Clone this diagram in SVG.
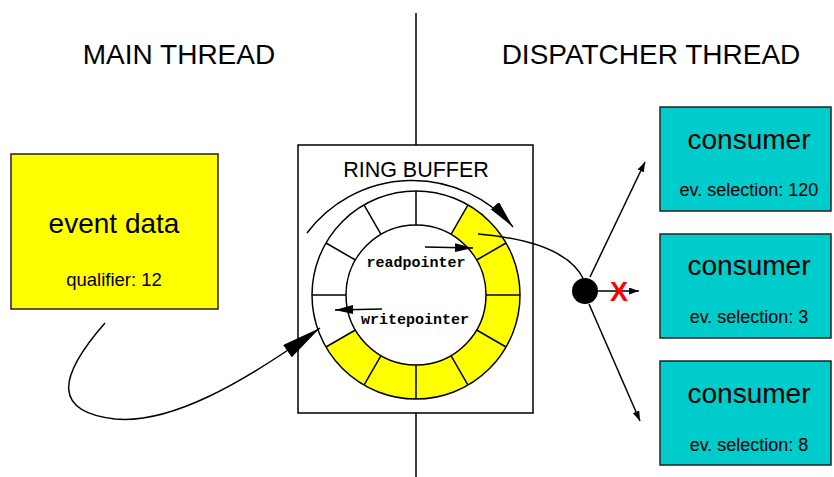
<svg xmlns="http://www.w3.org/2000/svg" width="834" height="477" viewBox="0 0 834 477">
  <defs>
    <style>
      .sans { font-family: "Liberation Sans", Arial, sans-serif; fill: #000; }
      .mono { font-family: "Liberation Mono", "Courier New", monospace; font-weight: bold; fill: #000; }
      .line { fill: none; stroke: #000; stroke-width: 1.5; }
      .seg { stroke: #000; stroke-width: 1.5; }
      .box { stroke: #222; stroke-width: 1.5; }
    </style>
    <marker id="head-big" markerUnits="userSpaceOnUse" markerWidth="42" markerHeight="16" refX="40" refY="7.5" orient="auto">
      <path d="M0,0 L40,7.5 L0,15 Z" fill="#000"/>
    </marker>
    <marker id="head-arc" markerUnits="userSpaceOnUse" markerWidth="30" markerHeight="12" refX="28" refY="5.5" orient="auto">
      <path d="M0,0 L28,5.5 L0,11 Z" fill="#000"/>
    </marker>
    <marker id="head-mid" markerUnits="userSpaceOnUse" markerWidth="20" markerHeight="10" refX="18" refY="4.5" orient="auto">
      <path d="M0,0 L18,4.5 L0,9 Z" fill="#000"/>
    </marker>
    <marker id="head-small" markerUnits="userSpaceOnUse" markerWidth="12" markerHeight="8" refX="10" refY="3.5" orient="auto">
      <path d="M0,0 L10,3.5 L0,7 Z" fill="#000"/>
    </marker>
  </defs>

  <rect width="834" height="477" fill="#fff"/>

  <!-- thread divider -->
  <g id="divider">
    <line class="line" x1="416" y1="13" x2="416" y2="145"/>
    <line class="line" x1="416" y1="413" x2="416" y2="477"/>
  </g>

  <!-- headings -->
  <g id="headings">
    <text class="sans" x="179" y="64" font-size="28" text-anchor="middle">MAIN THREAD</text>
    <text class="sans" x="651" y="64" font-size="28" text-anchor="middle">DISPATCHER THREAD</text>
  </g>

  <!-- event data -->
  <g id="event-data">
    <rect class="box" x="11" y="154" width="207" height="155" fill="#ffff00"/>
    <text class="sans" x="114" y="233" font-size="28" text-anchor="middle">event data</text>
    <text class="sans" x="114" y="286" font-size="18.5" text-anchor="middle">qualifier: 12</text>
  </g>

  <!-- ring buffer -->
  <g id="ring-buffer">
    <rect x="298" y="145" width="235" height="268" fill="#fff" stroke="#000" stroke-width="1.5"/>
    <text class="sans" x="416" y="177" font-size="21.5" text-anchor="middle">RING BUFFER</text>
    <circle cx="416" cy="295" r="104" fill="#fff"/>
    <path d="M468,204.93 A104,104 0 1 1 325.93,347 L355.38,330 A70,70 0 1 0 451,234.38 Z" fill="#ffff00"/>
    <g class="seg">
      <line x1="486" y1="295" x2="520" y2="295"/>
      <line x1="476.62" y1="260" x2="506.07" y2="243"/>
      <line x1="451" y1="234.38" x2="468" y2="204.93"/>
      <line x1="416" y1="225" x2="416" y2="191"/>
      <line x1="381" y1="234.38" x2="364" y2="204.93"/>
      <line x1="355.38" y1="260" x2="325.93" y2="243"/>
      <line x1="346" y1="295" x2="312" y2="295"/>
      <line x1="355.38" y1="330" x2="325.93" y2="347"/>
      <line x1="381" y1="355.62" x2="364" y2="385.07"/>
      <line x1="416" y1="365" x2="416" y2="399"/>
      <line x1="451" y1="355.62" x2="468" y2="385.07"/>
      <line x1="476.62" y1="330" x2="506.07" y2="347"/>
    </g>
    <circle class="line" cx="416" cy="295" r="104"/>
    <circle class="line" cx="416" cy="295" r="70"/>
    <text class="mono" x="416" y="267" font-size="15" text-anchor="middle">readpointer</text>
    <text class="mono" x="415" y="324" font-size="15" text-anchor="middle">writepointer</text>
  </g>

  <!-- consumers -->
  <g id="consumer-1">
    <rect class="box" x="660" y="107" width="171" height="104" fill="#00cccc"/>
    <text class="sans" x="749" y="149" font-size="28" text-anchor="middle">consumer</text>
    <text class="sans" x="749" y="196" font-size="18" text-anchor="middle">ev. selection: 120</text>
  </g>
  <g id="consumer-2">
    <rect class="box" x="660" y="234" width="171" height="104" fill="#00cccc"/>
    <text class="sans" x="749" y="275" font-size="28" text-anchor="middle">consumer</text>
    <text class="sans" x="749" y="323" font-size="18" text-anchor="middle">ev. selection: 3</text>
  </g>
  <g id="consumer-3">
    <rect class="box" x="660" y="361" width="171" height="104" fill="#00cccc"/>
    <text class="sans" x="749" y="403" font-size="28" text-anchor="middle">consumer</text>
    <text class="sans" x="749" y="451" font-size="18" text-anchor="middle">ev. selection: 8</text>
  </g>

  <!-- connectors -->
  <g id="connectors">
    <path class="line" d="M105,323 C55,380 55,412 115,419 C170,424 240,385 320,328" marker-end="url(#head-big)"/>
    <path class="line" d="M307,233 A132,132 0 0 1 513,227" marker-end="url(#head-arc)"/>
    <line class="line" x1="425" y1="247" x2="473" y2="248" marker-end="url(#head-mid)"/>
    <line class="line" x1="382" y1="309" x2="335" y2="310" marker-end="url(#head-mid)"/>
    <path class="line" d="M478,234 C525,238 570,250 584,280"/>
    <circle cx="585" cy="291" r="13" fill="#000"/>
    <line class="line" x1="590" y1="277" x2="645" y2="162" marker-end="url(#head-small)"/>
    <line class="line" x1="596" y1="291" x2="639" y2="291" marker-end="url(#head-small)"/>
    <line class="line" x1="589" y1="304" x2="640" y2="421" marker-end="url(#head-small)"/>
    <text x="619" y="301" font-family="Liberation Sans, Arial, sans-serif" font-weight="bold" font-size="27" fill="#ff0000" text-anchor="middle">X</text>
  </g>
</svg>
